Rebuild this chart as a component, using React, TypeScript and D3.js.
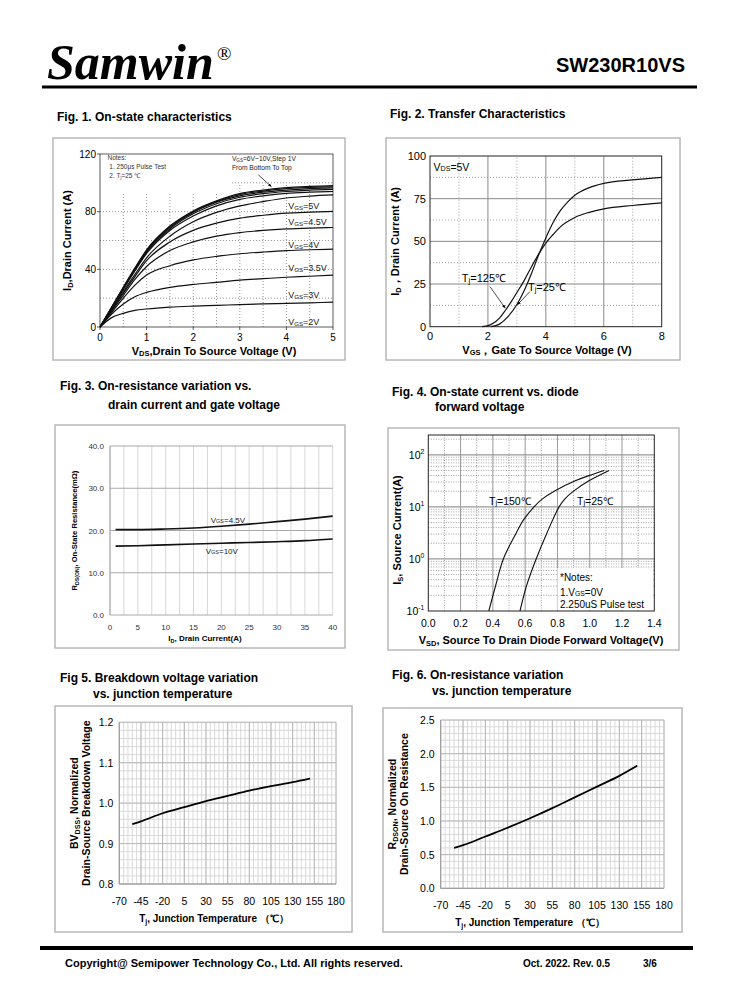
import React, { useEffect, useRef } from 'react';
import * as d3 from 'd3';

// ---------------- Fig 1 : On-state characteristics ----------------
const f1Vds = [0, 0.25, 0.5, 0.75, 1, 1.5, 2, 2.5, 3, 3.5, 4, 4.5, 5];
const f1Vgs = ['2V', '3V', '3.5V', '4V', '4.5V', '5V', '6V', '7V', '8V', '9V', '10V'];
const f1Id2 = [0, 6.5, 9.5, 11.5, 12.5, 13.8, 14.5, 15, 15.5, 16, 16.4, 16.8, 17.2];
const f1Id3 = [0, 9, 16, 21, 24, 27.5, 29.5, 31, 32.5, 33.5, 34.5, 35.2, 36];
const f1Id35 = [0, 10, 20, 29, 36, 42.5, 46.5, 49, 50.8, 52, 53, 53.6, 54];
const f1Id4 = [0, 11, 22, 33, 42, 53, 59, 63, 65.5, 67, 68, 68.6, 69];
const f1Id45 = [0, 11.5, 23.5, 35, 46, 59, 67, 72, 75.5, 77.5, 79, 79.7, 80.2];
const f1Id5 = [0, 12, 24.5, 36.5, 48, 63, 73, 79.5, 84, 87, 89.5, 90.8, 91.6];
const f1Id6 = [0, 13, 26, 39, 51, 67, 77, 84, 88.5, 91, 92.7, 93.5, 94];
const f1Id7 = [0, 13.3, 26.5, 39.5, 52, 68, 78.5, 85.5, 90, 92.5, 94, 95, 95.5];
const f1Id8 = [0, 13.5, 27, 40, 52.5, 69, 79.5, 86.5, 91, 93.5, 95, 96, 96.5];
const f1Id9 = [0, 13.7, 27.3, 40.5, 53, 69.5, 80, 87, 91.8, 94.3, 96, 96.8, 97.3];
const f1Id10 = [0, 13.8, 27.6, 41, 53.5, 70, 80.5, 87.5, 92.5, 95, 96.7, 97.5, 98];
const f1Curves = [f1Id2, f1Id3, f1Id35, f1Id4, f1Id45, f1Id5, f1Id6, f1Id7, f1Id8, f1Id9, f1Id10];
const f1LabelId = [3.7, 22, 40.7, 57, 72.6, 83.7];
const f1XTicks = [0, 1, 2, 3, 4, 5];
const f1YTicks = [0, 40, 80, 120];

// ---------------- Fig 2 : Transfer characteristics ----------------
const f2Vgs25 = [2.1, 2.4, 2.7, 3.0, 3.25, 3.5, 3.75, 4.0, 4.25, 4.5, 4.75, 5.0, 5.5, 6.0, 7.0, 8.0];
const f2Id25 = [0, 1.5, 6, 13, 21, 31, 42, 52, 61, 68, 73, 77, 81.5, 84, 86, 87.5];
const f2Vgs125 = [1.8, 2.1, 2.4, 2.6, 2.8, 3.0, 3.25, 3.5, 3.75, 4.0, 4.25, 4.5, 5.0, 5.5, 6.0, 7.0, 8.0];
const f2Id125 = [0, 1.2, 5, 9.5, 14.5, 20, 27, 35, 42.5, 49, 54, 58.5, 64, 67, 69, 71, 72.5];
const f2XTicks = [0, 2, 4, 6, 8];
const f2YTicks = [0, 25, 50, 75, 100];

// ---------------- Fig 3 : On-resistance vs drain current ----------------
const f3Id = [1, 5, 10, 15, 20, 25, 30, 35, 40];
const f3R45 = [20.2, 20.2, 20.35, 20.6, 21.0, 21.5, 22.1, 22.7, 23.4];
const f3R10 = [16.3, 16.4, 16.6, 16.8, 17.0, 17.15, 17.35, 17.6, 18.0];
const f3XTicks = [0, 5, 10, 15, 20, 25, 30, 35, 40];
const f3YTicks = [0, 10, 20, 30, 40];

// ---------------- Fig 4 : Diode forward voltage ----------------
const f4V150 = [0.375, 0.418, 0.465, 0.545, 0.59, 0.655, 0.705, 0.78, 0.91, 0.995, 1.09];
const f4I150 = [0.1, 0.316, 1, 3.16, 5.62, 10, 14.1, 20, 31.6, 39.8, 50];
const f4V25 = [0.568, 0.61, 0.668, 0.735, 0.81, 0.845, 0.9, 0.995, 1.12];
const f4I25 = [0.1, 0.316, 1, 3.16, 10, 14.1, 20, 31.6, 50];
const f4XTicks = [0, 0.2, 0.4, 0.6, 0.8, 1.0, 1.2, 1.4];
const f4Exps = [-1, 0, 1, 2];

// ---------------- Fig 5 / Fig 6 : vs junction temperature ----------------
const tempTicks = [-70, -45, -20, 5, 30, 55, 80, 105, 130, 155, 180];
const f5T = [-55, -45, -20, 5, 30, 55, 80, 105, 130, 150];
const f5BV = [0.948, 0.955, 0.975, 0.99, 1.005, 1.018, 1.031, 1.042, 1.052, 1.061];
const f5YTicks = [0.8, 0.9, 1.0, 1.1, 1.2];
const f6T = [-55, -45, -20, 5, 30, 55, 80, 105, 130, 150];
const f6R = [0.6, 0.64, 0.77, 0.9, 1.04, 1.19, 1.35, 1.51, 1.67, 1.82];
const f6YTicks = [0, 0.5, 1.0, 1.5, 2.0, 2.5];

const W = 738;
const H = 1000;
const FONT = "'Liberation Sans', Arial, Helvetica, sans-serif";
const SERIF = "'Liberation Serif', 'Times New Roman', serif";

type Part = string | { sub: string; k?: number } | { sup: string };
type Opt = { size: number; weight?: string; anchor?: string; rot?: number; fill?: string; family?: string; style?: string; base?: string };

function txt(g: any, x: number, y: number, parts: Part[], o: Opt) {
  const t = g.append('text').attr('x', x).attr('y', y).attr('font-size', o.size)
    .attr('font-weight', o.weight ?? 'normal').attr('text-anchor', o.anchor ?? 'start')
    .attr('fill', o.fill ?? '#000');
  if (o.family) t.attr('font-family', o.family);
  if (o.style) t.attr('font-style', o.style);
  if (o.base) t.attr('dominant-baseline', o.base);
  if (o.rot) t.attr('transform', `rotate(${o.rot},${x},${y})`);
  let shift = 0;
  for (const p of parts) {
    if (typeof p === 'string') {
      t.append('tspan').attr('dy', -shift).text(p);
      shift = 0;
    } else if ('sub' in p) {
      const s = o.size * (p.k ?? 0.2);
      t.append('tspan').attr('dy', s - shift).attr('font-size', o.size * 0.68).text(p.sub);
      shift = s;
    } else {
      const s = -o.size * 0.45;
      t.append('tspan').attr('dy', s - shift).attr('font-size', o.size * 0.65).text(p.sup);
      shift = s;
    }
  }
  return t;
}

function ln(g: any, x1: number, y1: number, x2: number, y2: number, stroke: string, sw: number, dash?: string) {
  const l = g.append('line').attr('x1', x1).attr('y1', y1).attr('x2', x2).attr('y2', y2)
    .attr('stroke', stroke).attr('stroke-width', sw);
  if (dash) l.attr('stroke-dasharray', dash);
  return l;
}

function frame(g: any, x: number, y: number, w: number, h: number) {
  g.append('rect').attr('x', x).attr('y', y).attr('width', w).attr('height', h)
    .attr('fill', 'none').attr('stroke', '#b8b8b8').attr('stroke-width', 1.5);
}

function draw(el: SVGSVGElement) {
  const svg = d3.select(el);
  svg.selectAll('*').remove();
  svg.attr('font-family', FONT);
  svg.append('rect').attr('width', W).attr('height', H).attr('fill', '#fff');
  const defs = svg.append('defs');
  defs.append('marker').attr('id', 'arr').attr('viewBox', '0 0 10 10').attr('refX', 10).attr('refY', 5)
    .attr('markerWidth', 5).attr('markerHeight', 5).attr('orient', 'auto')
    .append('path').attr('d', 'M0,1 L10,5 L0,9 z').attr('fill', '#000');

  // ---------- header ----------
  txt(svg, 47, 79, ['Samwin'], { size: 50, weight: 'bold', style: 'italic', family: SERIF });
  txt(svg, 217, 60, ['®'], { size: 19, family: SERIF });
  txt(svg, 685, 72, ['SW230R10VS'], { size: 20, weight: 'bold', anchor: 'end' });
  ln(svg, 42, 87, 697, 87, '#000', 3);

  // ---------- titles ----------
  txt(svg, 57, 121, ['Fig. 1. On-state characteristics'], { size: 12, weight: 'bold' });
  txt(svg, 390, 118, ['Fig. 2. Transfer Characteristics'], { size: 12, weight: 'bold' });
  txt(svg, 60, 390, ['Fig. 3. On-resistance variation vs.'], { size: 12, weight: 'bold' });
  txt(svg, 108, 409, ['drain current and gate voltage'], { size: 12, weight: 'bold' });
  txt(svg, 392, 396, ['Fig. 4. On-state current vs. diode'], { size: 12, weight: 'bold' });
  txt(svg, 435, 411, ['forward voltage'], { size: 12, weight: 'bold' });
  txt(svg, 60, 682, ['Fig 5. Breakdown voltage variation'], { size: 12, weight: 'bold' });
  txt(svg, 93, 698, ['vs. junction temperature'], { size: 12, weight: 'bold' });
  txt(svg, 392, 679, ['Fig. 6. On-resistance variation'], { size: 12, weight: 'bold' });
  txt(svg, 432, 695, ['vs. junction temperature'], { size: 12, weight: 'bold' });

  // ================= Fig 1 =================
  {
    const g = svg.append('g');
    frame(g, 53, 138, 292, 222);
    const x = d3.scaleLinear().domain([0, 5]).range([100, 333]);
    const y = d3.scaleLinear().domain([0, 120]).range([327, 154]);
    d3.range(0.5, 5, 0.5).forEach(v => ln(g, x(v), y(0), x(v), y(100), '#777', 0.8, '1,2'));
    d3.range(20, 120, 20).forEach(v => ln(g, x(0), y(v), x(5), y(v), '#777', 0.8, '1,2'));
    g.append('rect').attr('x', x(0)).attr('y', y(120)).attr('width', x(5) - x(0)).attr('height', y(100.6) - y(120)).attr('fill', '#fff');
    g.append('rect').attr('x', x(0)).attr('y', y(120)).attr('width', x(2.8) - x(0)).attr('height', y(93) - y(120)).attr('fill', '#fff');
    g.append('rect').attr('x', x(0)).attr('y', y(120)).attr('width', x(5) - x(0)).attr('height', y(0) - y(120))
      .attr('fill', 'none').attr('stroke', '#333').attr('stroke-width', 0.8);
    const line = d3.line<number>().x((_d, i) => x(f1Vds[i])).y(d => y(d)).curve(d3.curveMonotoneX);
    f1Curves.forEach(c => g.append('path').attr('d', line(c)).attr('fill', 'none').attr('stroke', '#111').attr('stroke-width', 1.2));
    f1XTicks.forEach(v => {
      ln(g, x(v), y(0), x(v), y(0) + 3, '#333', 0.8);
      txt(g, x(v), 341, [String(v)], { size: 10, anchor: 'middle' });
    });
    f1YTicks.forEach(v => {
      ln(g, x(0) - 3, y(v), x(0), y(v), '#333', 0.8);
      txt(g, x(0) - 4, y(v) + 3.5, [String(v)], { size: 10, anchor: 'end' });
    });
    f1LabelId.forEach((v, i) => {
      txt(g, x(4.04), y(v), ['V', { sub: 'GS', k: 0.12 }, '=' + f1Vgs[i]], { size: 9, base: 'central', fill: '#222' });
    });
    txt(g, x(0.16), y(115.5), ['Notes:'], { size: 6.5, fill: '#333' });
    txt(g, x(0.2), y(109.5), ['1. 250μs  Pulse Test'], { size: 6.5, fill: '#333' });
    txt(g, x(0.2), y(103.5), ['2. T', { sub: 'j' }, '=25 ℃'], { size: 6.5, fill: '#333' });
    txt(g, x(2.83), y(115.2), ['V', { sub: 'GS', k: 0.1 }, '=6V~10V,Step 1V'], { size: 6.7, fill: '#222' });
    txt(g, x(2.83), y(108.9), ['From Bottom To Top'], { size: 6.7, fill: '#222' });
    ln(g, x(3.4), y(105.5), x(3.68), y(97.3), '#000', 0.7).attr('marker-end', 'url(#arr)');
    txt(g, 71, y(60), ['I', { sub: 'D' }, ',Drain Current (A)'], { size: 11, weight: 'bold', anchor: 'middle', rot: -90 });
    txt(g, 214, 355, ['V', { sub: 'DS', k: 0.12 }, ',Drain To Source Voltage (V)'], { size: 11, weight: 'bold', anchor: 'middle' });
  }

  // ================= Fig 2 =================
  {
    const g = svg.append('g');
    frame(g, 386, 138, 294, 222);
    const x = d3.scaleLinear().domain([0, 8]).range([430, 661.7]);
    const y = d3.scaleLinear().domain([0, 100]).range([326.7, 156]);
    [1, 3, 5, 7].forEach(v => ln(g, x(v), y(0), x(v), y(100), '#888', 0.8, '1,2'));
    [12.5, 37.5, 62.5, 87.5].forEach(v => ln(g, x(0), y(v), x(8), y(v), '#888', 0.8, '1,2'));
    [2, 4, 6].forEach(v => ln(g, x(v), y(0), x(v), y(100), '#8a8a8a', 1));
    [25, 50, 75].forEach(v => ln(g, x(0), y(v), x(8), y(v), '#8a8a8a', 1));
    g.append('rect').attr('x', x(0)).attr('y', y(100)).attr('width', x(8) - x(0)).attr('height', y(0) - y(100))
      .attr('fill', 'none').attr('stroke', '#222').attr('stroke-width', 1);
    const line = d3.line<[number, number]>().x(d => x(d[0])).y(d => y(d[1])).curve(d3.curveMonotoneX);
    g.append('path').attr('d', line(d3.zip(f2Vgs25, f2Id25) as [number, number][])).attr('fill', 'none').attr('stroke', '#111').attr('stroke-width', 1.2);
    g.append('path').attr('d', line(d3.zip(f2Vgs125, f2Id125) as [number, number][])).attr('fill', 'none').attr('stroke', '#111').attr('stroke-width', 1.2);
    f2XTicks.forEach(v => txt(g, x(v), 340, [String(v)], { size: 11, anchor: 'middle' }));
    f2YTicks.forEach(v => txt(g, x(0) - 4, y(v) + 4, [String(v)], { size: 11, anchor: 'end' }));
    txt(g, x(0.12), y(93.3), ['V', { sub: 'DS', k: 0.12 }, '=5V'], { size: 10.5, base: 'central' });
    txt(g, x(1.1), y(28.8), ['T', { sub: 'j' }, '=125℃'], { size: 11, base: 'central' });
    ln(g, x(2.07), y(23.5), x(2.6), y(10.8), '#000', 0.7).attr('marker-end', 'url(#arr)');
    txt(g, x(3.38), y(23.2), ['T', { sub: 'j' }, '=25℃'], { size: 11, base: 'central' });
    ln(g, x(3.45), y(20.6), x(3.02), y(12.8), '#000', 0.7).attr('marker-end', 'url(#arr)');
    txt(g, 399, y(50), ['I', { sub: 'D' }, '，Drain Current (A)'], { size: 11, weight: 'bold', anchor: 'middle', rot: -90 });
    txt(g, 547, 354, ['V', { sub: 'GS', k: 0.12 }, '，Gate To Source Voltage (V)'], { size: 11, weight: 'bold', anchor: 'middle' });
  }

  // ================= Fig 3 =================
  {
    const g = svg.append('g');
    frame(g, 55, 425, 290, 223);
    const x = d3.scaleLinear().domain([0, 40]).range([110, 332.7]);
    const y = d3.scaleLinear().domain([0, 40]).range([615, 446]);
    d3.range(0, 40.1, 2.5).forEach(v => ln(g, x(v), y(0), x(v), y(40), '#d2d2d2', 0.9));
    f3YTicks.forEach(v => ln(g, x(0), y(v), x(40), y(v), '#a8a8a8', 1));
    ln(g, x(0), y(0), x(0), y(40), '#a0a0a0', 1);
    const line = d3.line<number>().x((_d, i) => x(f3Id[i])).y(d => y(d)).curve(d3.curveMonotoneX);
    g.append('path').attr('d', line(f3R45)).attr('fill', 'none').attr('stroke', '#111').attr('stroke-width', 1.6);
    g.append('path').attr('d', line(f3R10)).attr('fill', 'none').attr('stroke', '#111').attr('stroke-width', 1.6);
    f3XTicks.forEach(v => txt(g, x(v), 630, [String(v)], { size: 8, anchor: 'middle', fill: '#333' }));
    f3YTicks.forEach(v => txt(g, x(0) - 6, y(v) + 3, [v.toFixed(1)], { size: 8, anchor: 'end', fill: '#333' }));
    txt(g, x(18.1), y(22.6), ['V', { sub: 'GS', k: 0.15 }, '=4.5V'], { size: 8, base: 'central', fill: '#222' });
    txt(g, x(17.2), y(15.1), ['V', { sub: 'GS', k: 0.15 }, '=10V'], { size: 8, base: 'central', fill: '#222' });
    txt(g, 77, y(20), ['R', { sub: 'DS(ON)' }, ', On-State Resistance(mΩ)'], { size: 7.6, weight: 'bold', anchor: 'middle', rot: -90 });
    txt(g, 205, 641, ['I', { sub: 'D' }, ', Drain Current(A)'], { size: 8, weight: 'bold', anchor: 'middle' });
  }

  // ================= Fig 4 =================
  {
    const g = svg.append('g');
    frame(g, 388, 428, 291, 222);
    const x = d3.scaleLinear().domain([0, 1.4]).range([428.3, 654.3]);
    const y = d3.scaleLog().domain([0.1, Math.pow(10, 2.38)]).range([611, 435]);
    d3.range(1, 14, 2).forEach(k => ln(g, x(k / 10), y.range()[0], x(k / 10), y.range()[1], '#888', 0.8, '1,1.5'));
    d3.range(2, 14, 2).forEach(k => ln(g, x(k / 10), y.range()[0], x(k / 10), y.range()[1], '#999', 1));
    [0.1, 1, 10].forEach(dec => d3.range(2, 10).forEach(m => ln(g, x(0), y(dec * m), x(1.4), y(dec * m), '#888', 0.8, '1,1.5')));
    ln(g, x(0), y(200), x(1.4), y(200), '#888', 0.8, '1,1.5');
    [1, 10, 100].forEach(v => ln(g, x(0), y(v), x(1.4), y(v), '#999', 1.2));
    g.append('rect').attr('x', x(0)).attr('y', y.range()[1]).attr('width', x(1.4) - x(0)).attr('height', y.range()[0] - y.range()[1])
      .attr('fill', 'none').attr('stroke', '#222').attr('stroke-width', 1);
    g.append('rect').attr('x', x(0.8)).attr('y', y(0.67)).attr('width', x(1.39) - x(0.8)).attr('height', y(0.105) - y(0.67)).attr('fill', '#fff');
    const line = d3.line<[number, number]>().x(d => x(d[0])).y(d => y(d[1])).curve(d3.curveCatmullRom.alpha(0.5));
    g.append('path').attr('d', line(d3.zip(f4V150, f4I150) as [number, number][])).attr('fill', 'none').attr('stroke', '#111').attr('stroke-width', 1.1);
    g.append('path').attr('d', line(d3.zip(f4V25, f4I25) as [number, number][])).attr('fill', 'none').attr('stroke', '#111').attr('stroke-width', 1.1);
    f4XTicks.forEach(v => txt(g, x(v), 627, [v.toFixed(1)], { size: 10.5, anchor: 'middle' }));
    f4Exps.forEach(e => txt(g, x(0) - 4, y(Math.pow(10, e)) + 4, ['10', { sup: String(e) }], { size: 10.5, anchor: 'end' }));
    txt(g, 489, y(10) - 6, ['T', { sub: 'j' }, '=150℃'], { size: 10.5, base: 'central' });
    txt(g, 577, y(10) - 6, ['T', { sub: 'j' }, '=25℃'], { size: 10.5, base: 'central' });
    txt(g, 560, 577, ['*Notes:'], { size: 10, base: 'central' });
    txt(g, 560, 592, ['1.V', { sub: 'GS', k: 0.12 }, '=0V'], { size: 10, base: 'central' });
    txt(g, 560, 604, ['2.250uS Pulse test'], { size: 10, base: 'central' });
    txt(g, 401, 530, ['I', { sub: 'S' }, ', Source Current(A)'], { size: 11, weight: 'bold', anchor: 'middle', rot: -90 });
    txt(g, 541, 644, ['V', { sub: 'SD' }, ', Source To Drain Diode Forward Voltage(V)'], { size: 11, weight: 'bold', anchor: 'middle' });
  }

  // ================= Fig 5 & 6 =================
  const tempChart = (fx: number, fy: number, fw: number, fh: number, x0: number, x1: number, y0: number, y1: number,
    dom: [number, number], minorStep: number, majors: number[], T: number[], V: number[], fmt: (v: number) => string,
    ylab: Part[][], ylabX: number[], xlabX: number) => {
    const g = svg.append('g');
    frame(g, fx, fy, fw, fh);
    const x = d3.scaleLinear().domain([-70, 180]).range([x0, x1]);
    const y = d3.scaleLinear().domain(dom).range([y0, y1]);
    d3.range(-70, 180.1, 5).forEach(v => ln(g, x(v), y(dom[0]), x(v), y(dom[1]), '#d0d0d0', 0.8));
    d3.range(dom[0], dom[1] + minorStep / 2, minorStep).forEach(v => ln(g, x(-70), y(v), x(180), y(v), '#d0d0d0', 0.8));
    tempTicks.forEach(v => ln(g, x(v), y(dom[0]), x(v), y(dom[1]), '#b4b4b4', 0.9));
    majors.forEach(v => ln(g, x(-70), y(v), x(180), y(v), '#b4b4b4', 0.9));
    ln(g, x(-70), y(dom[0]), x(-70), y(dom[1]), '#999', 1);
    ln(g, x(-70), y(dom[0]), x(180), y(dom[0]), '#999', 1);
    const line = d3.line<number>().x((_d, i) => x(T[i])).y(d => y(d)).curve(d3.curveMonotoneX);
    g.append('path').attr('d', line(V)).attr('fill', 'none').attr('stroke', '#000').attr('stroke-width', 1.8);
    tempTicks.forEach(v => txt(g, x(v), y0 + 21, [String(v)], { size: 10.5, anchor: 'middle' }));
    majors.forEach(v => txt(g, x(-70) - 6, y(v) + 4, [fmt(v)], { size: 10.5, anchor: 'end' }));
    const cy = (y0 + y1) / 2;
    ylab.forEach((p, i) => txt(g, ylabX[i], cy, p, { size: 10.5, weight: 'bold', anchor: 'middle', rot: -90 }));
    txt(g, xlabX, y0 + 38, ['T', { sub: 'j' }, ', Junction Temperature （℃）'], { size: 10, weight: 'bold', anchor: 'middle' });
  };
  tempChart(55, 706, 297, 226, 119.3, 336, 884, 722.3, [0.8, 1.2], 0.02, f5YTicks, f5T, f5BV, v => v.toFixed(1),
    [['BV', { sub: 'DSS' }, ', Normalized'], ['Drain-Source Breakdown Voltage']], [78, 90], 214);
  tempChart(383, 708, 299, 224, 440.7, 664, 888.3, 720, [0, 2.5], 0.1, f6YTicks, f6T, f6R, v => v.toFixed(1),
    [['R', { sub: 'DSON' }, ', Normalized'], ['Drain-Source On Resistance']], [396, 408], 530);

  // ---------- footer ----------
  ln(svg, 40, 948, 693, 948, '#000', 4);
  txt(svg, 65, 967, ['Copyright@ Semipower Technology Co., Ltd. All rights reserved.'], { size: 11, weight: 'bold' });
  txt(svg, 523, 967, ['Oct. 2022. Rev. 0.5'], { size: 10, weight: 'bold' });
  txt(svg, 643, 967, ['3/6'], { size: 10, weight: 'bold' });
}

export default function App() {
  const ref = useRef<SVGSVGElement>(null);
  useEffect(() => {
    if (ref.current) draw(ref.current);
  }, []);
  return (
    <svg ref={ref} width={W} height={H} style={{ position: 'absolute', left: 0, top: 0, background: '#fff' }} />
  );
}
